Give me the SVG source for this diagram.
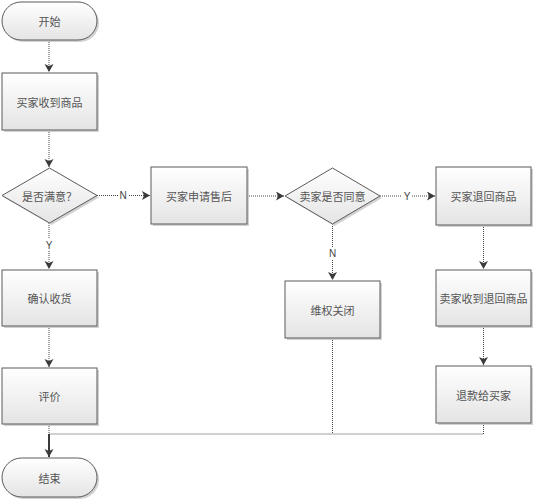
<svg xmlns="http://www.w3.org/2000/svg" width="535" height="501" viewBox="0 0 535 501">
<defs>
<linearGradient id="g" x1="0" y1="0" x2="0" y2="1">
<stop offset="0" stop-color="#ffffff"/>
<stop offset="1" stop-color="#e4e4e4"/>
</linearGradient>
<marker id="a" markerUnits="userSpaceOnUse" markerWidth="10" markerHeight="10" refX="8" refY="4.5" orient="auto">
<path d="M0,0 L8,4.5 L0,9 L2,4.5 Z" fill="#3a3a3a"/>
</marker>
</defs>
<style>
.sh{fill:#d2d2d2;stroke:none}
.bx{fill:url(#g);stroke:#5a5a5a;stroke-width:1}
.t{font-family:"Noto Sans CJK SC","Liberation Sans",sans-serif;font-size:11px;fill:#555;text-anchor:middle;dominant-baseline:central}
.lb{font-family:"Liberation Sans",sans-serif;font-size:10px;fill:#444;text-anchor:middle;dominant-baseline:central}
.lbg{fill:#fff}
.c{fill:none;stroke:#444;stroke-width:1;stroke-dasharray:1 1}
.cs{fill:none;stroke:#3a3a3a;stroke-width:2}
</style>
<rect width="535" height="501" fill="#fff"/>
<g id="connectors">
<path class="c" d="M49,40 V72" marker-end="url(#a)"/>
<path class="c" d="M49,130 V167" marker-end="url(#a)"/>
<path class="c" d="M97,195.5 H150" marker-end="url(#a)"/>
<path class="c" d="M49,223 V269" marker-end="url(#a)"/>
<path class="c" d="M247,196 H284" marker-end="url(#a)"/>
<path class="c" d="M380,196 H435" marker-end="url(#a)"/>
<path class="c" d="M332.5,224 V280" marker-end="url(#a)"/>
<path class="c" d="M483.5,225 V269" marker-end="url(#a)"/>
<path class="c" d="M483.5,326 V365" marker-end="url(#a)"/>
<path class="c" d="M49,326 V367" marker-end="url(#a)"/>
<path class="c" d="M49,424 V434"/>
<path class="c" d="M332.5,338 V434 H49"/>
<path class="c" d="M483.5,423 V434 H332.5"/>
<path class="cs" d="M49,434 V457" marker-end="url(#a)"/>
<rect class="lbg" x="118" y="189" width="10" height="12"/>
<text class="lb" x="123" y="195.5">N</text>
<rect class="lbg" x="44" y="239" width="10" height="12"/>
<text class="lb" x="49" y="245">Y</text>
<rect class="lbg" x="402" y="190" width="10" height="12"/>
<text class="lb" x="407" y="196">Y</text>
<rect class="lbg" x="327.5" y="247" width="10" height="12"/>
<text class="lb" x="332.5" y="253">N</text>
</g>
<g id="start">
<rect class="sh" x="4" y="4" width="95" height="38" rx="19"/>
<rect class="bx" x="2" y="2" width="95" height="38" rx="19"/>
<text class="t" x="49.5" y="21">开始</text>
</g>
<g id="n1">
<rect class="sh" x="4" y="75" width="95" height="57"/>
<rect class="bx" x="2" y="73" width="95" height="57"/>
<text class="t" x="49.5" y="101.5">买家收到商品</text>
</g>
<g id="d1">
<polygon class="sh" points="51.5,170 99,197.5 51.5,225 4,197.5"/>
<polygon class="bx" points="49.5,168 97,195.5 49.5,223 2,195.5"/>
<text class="t" x="49.5" y="195.5">是否满意？</text>
</g>
<g id="n2">
<rect class="sh" x="153" y="169" width="96" height="57"/>
<rect class="bx" x="151" y="167" width="96" height="57"/>
<text class="t" x="199" y="195.5">买家申请售后</text>
</g>
<g id="d2">
<polygon class="sh" points="334.5,170 382,198 334.5,226 287,198"/>
<polygon class="bx" points="332.5,168 380,196 332.5,224 285,196"/>
<text class="t" x="332.5" y="196">卖家是否同意</text>
</g>
<g id="n3">
<rect class="sh" x="438" y="169" width="95" height="58"/>
<rect class="bx" x="436" y="167" width="95" height="58"/>
<text class="t" x="483.5" y="196">买家退回商品</text>
</g>
<g id="n4">
<rect class="sh" x="287" y="283" width="95" height="57"/>
<rect class="bx" x="285" y="281" width="95" height="57"/>
<text class="t" x="332.5" y="309.5">维权关闭</text>
</g>
<g id="n5">
<rect class="sh" x="438" y="272" width="95" height="56"/>
<rect class="bx" x="436" y="270" width="95" height="56"/>
<text class="t" x="483.5" y="298">卖家收到退回商品</text>
</g>
<g id="n6">
<rect class="sh" x="438" y="368" width="95" height="57"/>
<rect class="bx" x="436" y="366" width="95" height="57"/>
<text class="t" x="483.5" y="394.5">退款给买家</text>
</g>
<g id="n7">
<rect class="sh" x="4" y="272" width="95" height="56"/>
<rect class="bx" x="2" y="270" width="95" height="56"/>
<text class="t" x="49.5" y="298">确认收货</text>
</g>
<g id="n8">
<rect class="sh" x="4" y="370" width="95" height="56"/>
<rect class="bx" x="2" y="368" width="95" height="56"/>
<text class="t" x="49.5" y="396">评价</text>
</g>
<g id="end">
<rect class="sh" x="4" y="460" width="95" height="39" rx="19.5"/>
<rect class="bx" x="2" y="458" width="95" height="39" rx="19.5"/>
<text class="t" x="49.5" y="477.5">结束</text>
</g>
</svg>
